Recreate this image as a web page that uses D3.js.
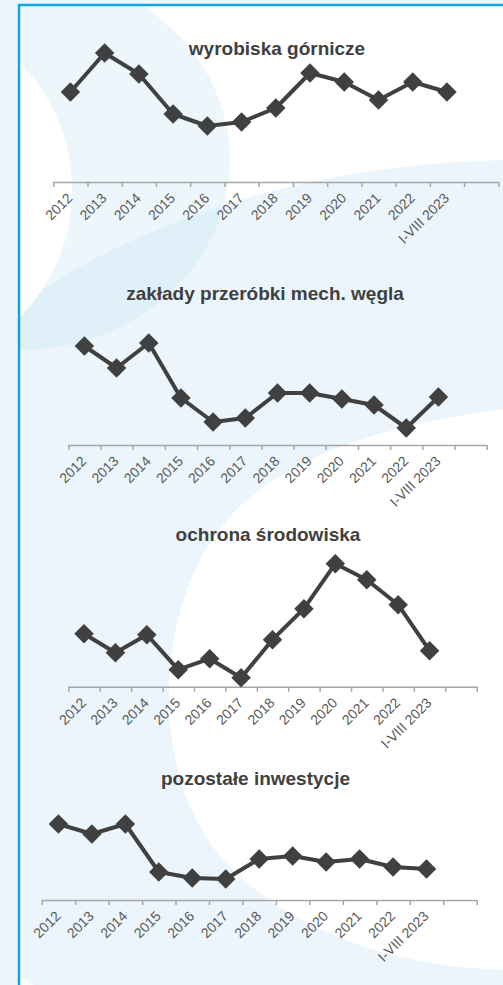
<!DOCTYPE html>
<html>
<head>
<meta charset="utf-8">
<script src="https://cdn.jsdelivr.net/npm/d3@7"></script>
<style>
  body { margin: 0; background: #eef6fc; }
  svg { display: block; }
</style>
</head>
<body>
<div id="chart"></div>
<script>
'use strict'

// categories (the 13th slot on the axis stays empty, like in the source chart)
const years = ['2012', '2013', '2014', '2015', '2016', '2017', '2018', '2019', '2020', '2021', '2022', 'I-VIII 2023']

// series values (no y axis in the source, so relative units)
const wyrobiska = [90, 129, 108, 68, 56, 60, 74, 109, 100, 82, 100, 90]
const zaklady = [99, 77, 102, 47, 23, 27, 52, 52, 46, 40, 17, 48]
const ochrona = [53, 34, 52, 17, 28, 9, 47, 78, 123, 107, 82, 36]
const pozostale = [76, 66, 76, 28, 22, 21, 41, 44, 38, 41, 33, 31]

const titles = ['wyrobiska górnicze', 'zakłady przeróbki mech. węgla', 'ochrona środowiska', 'pozostałe inwestycje']

// where each small chart sits on the page
const panels = [
  { title: titles[0], values: wyrobiska, x0: 53.3, x1: 498.3, axisY: 182, titleX: 277, titleY: 55 },
  { title: titles[1], values: zaklady, x0: 68.3, x1: 486.7, axisY: 445, titleX: 265, titleY: 300 },
  { title: titles[2], values: ochrona, x0: 68.3, x1: 476.7, axisY: 686.7, titleX: 268, titleY: 541 },
  { title: titles[3], values: pozostale, x0: 41.7, x1: 476.7, axisY: 900, titleX: 255.5, titleY: 785 }
]

const width = 503
const height = 985
const dark = '#404040'

const svg = d3.select('#chart')
  .append('svg')
    .attr('width', width)
    .attr('height', height)

// background: pale page, white card with soft blue swooshes
svg.append('rect')
  .attr('width', width).attr('height', height)
  .attr('fill', '#eef6fc')

const clip = svg.append('clipPath').attr('id', 'card')
clip.append('rect').attr('x', 19).attr('y', 5).attr('width', width).attr('height', height)
const card = svg.append('g').attr('clip-path', 'url(#card)')

card.append('rect')
  .attr('x', 19).attr('y', 5).attr('width', width).attr('height', height)
  .attr('fill', '#ffffff')

card.append('ellipse')
  .attr('cx', 20).attr('cy', 160).attr('rx', 210).attr('ry', 190)
  .attr('fill', '#cfe8f5').attr('fill-opacity', 0.38)

card.append('ellipse')
  .attr('cx', 520).attr('cy', 640).attr('rx', 700).attr('ry', 480)
  .attr('fill', '#cfe8f5').attr('fill-opacity', 0.42)

card.append('circle')
  .attr('cx', -110).attr('cy', 190).attr('r', 182)
  .attr('fill', '#ffffff')

card.append('path')
  .attr('d', 'M 510,408 C 380,425 250,460 200,560 C 150,660 160,800 233,870 C 300,935 400,968 510,970 Z')
  .attr('fill', '#ffffff')

// blue frame (only left and top edges are visible)
svg.append('path')
  .attr('d', `M 19,${height} L 19,5 L ${width},5`)
  .attr('fill', 'none')
  .attr('stroke', '#0ea5e2')
  .attr('stroke-width', 2.5)

panels.forEach(p => {
  const g = svg.append('g')

  const x = d3.scaleLinear()
    .domain([0, years.length + 1])
    .range([p.x0, p.x1])

  const y = d3.scaleLinear()
    .domain([0, 130])
    .range([p.axisY, p.axisY - 130])

  g.append('text')
    .attr('x', p.titleX)
    .attr('y', p.titleY)
    .attr('text-anchor', 'middle')
    .attr('font-family', 'Liberation Sans, Arial, sans-serif')
    .attr('font-weight', 'bold')
    .attr('font-size', 19)
    .attr('fill', dark)
    .text(p.title)

  const axis = g.append('g')
    .attr('transform', `translate(0, ${p.axisY})`)
    .call(d3.axisBottom(x)
      .tickValues(d3.range(years.length + 2))
      .tickFormat('')
      .tickSizeInner(5)
      .tickSizeOuter(0))
  axis.select('.domain').attr('stroke', '#a6a6a6').attr('stroke-width', 1.5)
  axis.selectAll('.tick line').attr('stroke', '#a6a6a6').attr('stroke-width', 1.5)

  g.selectAll('.lbl')
    .data(years)
    .join('text')
      .attr('class', 'lbl')
      .attr('transform', (d, i) => `translate(${x(i + 0.5) - 0.5}, ${p.axisY + 13.5}) rotate(-45)`)
      .attr('dy', '0.35em')
      .attr('text-anchor', 'end')
      .attr('font-family', 'Liberation Sans, Arial, sans-serif')
      .attr('font-size', 14)
      .attr('fill', '#595959')
      .text(d => d)

  g.append('path')
    .datum(p.values)
    .attr('fill', 'none')
    .attr('stroke', dark)
    .attr('stroke-width', 4)
    .attr('stroke-linejoin', 'round')
    .attr('d', d3.line()
      .x((d, i) => x(i + 0.5))
      .y(d => y(d)))

  g.selectAll('.pt')
    .data(p.values)
    .join('path')
      .attr('class', 'pt')
      .attr('transform', (d, i) => `translate(${x(i + 0.5)}, ${y(d)}) rotate(45)`)
      .attr('d', d3.symbol(d3.symbolSquare, 190))
      .attr('fill', dark)
})
</script>
</body>
</html>
